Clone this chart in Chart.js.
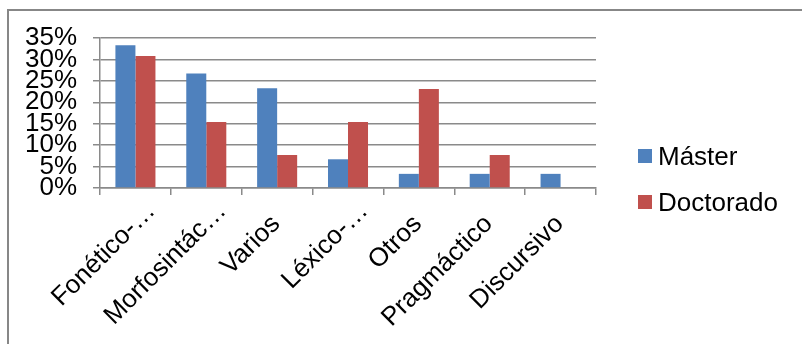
<!DOCTYPE html>
<html>
<head>
<meta charset="utf-8">
<script src="https://cdn.jsdelivr.net/npm/chart.js@4"></script>
<style>
  html, body { margin:0; padding:0; background:#fff; }
  body { width:802px; height:344px; position:relative; overflow:hidden; font-family:"Liberation Sans", Arial, sans-serif; }
  .frame { position:absolute; left:7px; top:9px; width:900px; height:500px; border:2px solid #878787; box-sizing:border-box; }
  .wrap { position:absolute; left:0; top:0; width:802px; height:344px; }
  .legend { position:absolute; left:638px; top:0; font-size:26px; color:#000; }
  .legend .item { position:absolute; left:0; white-space:nowrap; line-height:30px; }
  .legend .sw { display:inline-block; width:14px; height:14px; margin-right:6px; vertical-align:middle; position:relative; top:-2px; }
</style>
</head>
<body>
<div class="frame"></div>
<div class="wrap"><canvas id="c" width="802" height="344"></canvas></div>
<div class="legend" id="legend"></div>
<script>
// Data
const categories = ["Fonético-…", "Morfosintác…", "Varios", "Léxico-…", "Otros", "Pragmáctico", "Discursivo"];
const master     = [33.3, 26.7, 23.3, 6.7, 3.3, 3.3, 3.3];
const doctorado  = [30.8, 15.4, 7.7, 15.4, 23.1, 7.7, 0];
const yTicks     = [0, 5, 10, 15, 20, 25, 30, 35];

const blue = "#4F81BD", red = "#C0504D", grid = "#8a8a8a";
const font = { family:"'Liberation Sans', Arial, sans-serif", size:26 };
const cut = s => s.endsWith("…");   // truncated labels sit further along the axis

const chart = new Chart(document.getElementById("c"), {
    type:"bar",
    data:{
        labels: categories,
        datasets:[
            { label:"Máster",    data:master,    backgroundColor:blue },
            { label:"Doctorado", data:doctorado, backgroundColor:red }
        ]
    },
    options:{
        responsive:false, animation:false,
        layout:{ padding:{ top:38, right:206, bottom:0, left:0 } },
        datasets:{ bar:{ categoryPercentage:0.565, barPercentage:1 } },
        plugins:{ legend:{ display:false }, tooltip:{ enabled:false } },
        scales:{
            x:{
                grid:{ drawOnChartArea:false, tickLength:7, color:grid, lineWidth:1.5, offset:true },
                border:{ color:grid, width:1.5 },
                ticks:{ color:"#000", font, maxRotation:45, minRotation:45, autoSkip:false, padding:14, labelOffset:-1,
                        callback: (v, i) => cut(categories[i]) ? "" : categories[i] },
                afterFit: s => { s.height = 156; }
            },
            x2:{
                type:"category", labels:categories, offset:true,
                position:{ y:0 },
                grid:{ display:false, drawTicks:true, tickLength:7 },
                border:{ display:false },
                ticks:{ color:"#000", font, maxRotation:45, minRotation:45, autoSkip:false, padding:1, labelOffset:16,
                        callback: (v, i) => cut(categories[i]) ? categories[i] : "" }
            },
            y:{
                min:0, max:35,
                afterBuildTicks: s => { s.ticks = yTicks.map(v => ({ value:v })); },
                grid:{ color:grid, lineWidth:1.5, tickLength:7 },
                border:{ color:grid, width:1.5 },
                ticks:{ color:"#000", font, padding:16, autoSkip:false, callback: v => v + "%" },
                afterFit: s => { s.width = 100; }
            }
        }
    }
});

// Legend
const legend = document.getElementById("legend");
[["Máster", blue, 141], ["Doctorado", red, 187]].forEach(([t, c, y]) => {
    const d = document.createElement("div");
    d.className = "item";
    d.style.top = y + "px";
    d.innerHTML = `<span class="sw" style="background:${c}"></span>${t}`;
    legend.appendChild(d);
});
</script>
</body>
</html>
